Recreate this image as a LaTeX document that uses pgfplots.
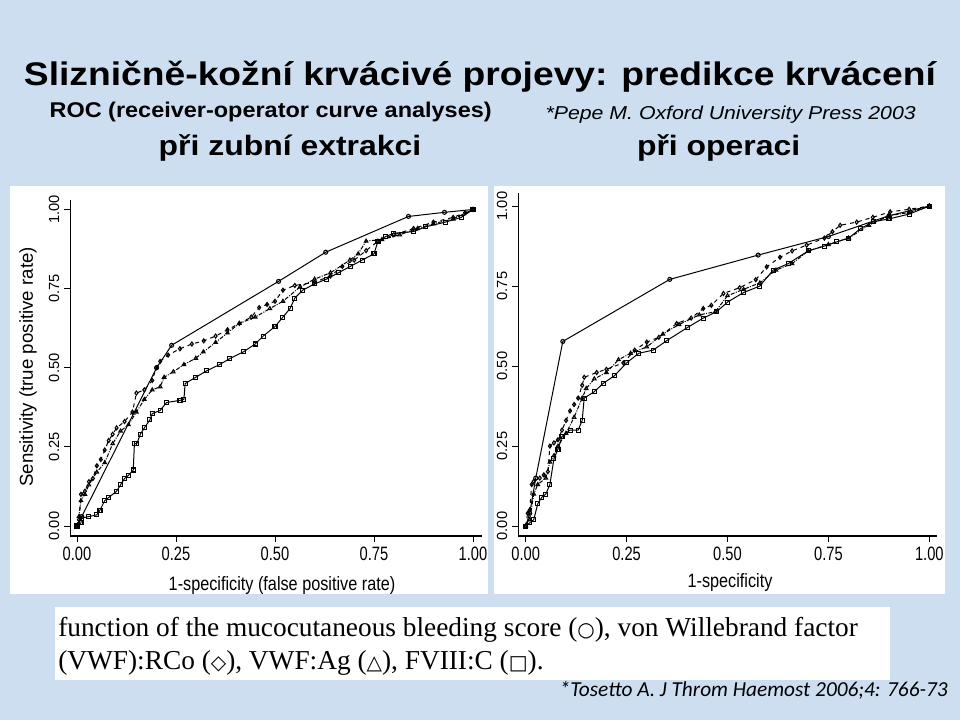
\documentclass[border=0pt]{standalone}
\usepackage{fontspec}
\setmainfont{Liberation Sans}
\newfontfamily\timesfont{Liberation Serif}
\newfontfamily\califont{Carlito}
\newfontfamily\symfont{DejaVu Sans}
\usepackage{pgfplots}
\pgfplotsset{compat=1.18}
\definecolor{slidebg}{RGB}{205,222,241}

\pgfplotsset{
  rocaxis/.style={
    anchor=south west, scale only axis,
    axis x line*=bottom, axis y line*=left,
    x axis line style={line width=1.5pt,-},
    y axis line style={line width=0.7pt,-},
    tick align=outside, major tick length=4.5pt,
    tick style={black, line width=0.7pt},
    xtick={0,0.25,0.5,0.75,1}, ytick={0,0.25,0.5,0.75,1},
    xticklabels={0.00,0.25,0.50,0.75,1.00},
    yticklabels={0.00,0.25,0.50,0.75,1.00},
    xticklabel style={font=\fontsize{14.5}{14.5}\selectfont, xscale=0.76},
    yticklabel style={font=\fontsize{11}{11}\selectfont, rotate=90, anchor=south},
    clip=false,
  },
  curve/.style={black, line width=0.75pt, mark size=1.5pt, mark options={solid, line width=0.8pt, fill=white}},
}

\begin{document}
\begin{tikzpicture}
% slide background
\fill[slidebg] (0,0) rectangle (720pt,540pt);
\fill[white] (7.5pt,94.5pt) rectangle (366pt,400.5pt);
\fill[white] (370.5pt,94.5pt) rectangle (708.75pt,400.5pt);

% titles
\node[anchor=base, inner sep=0] at (360pt,476pt) {\scalebox{1.14}[1]{\fontsize{24.5}{24.5}\selectfont\bfseries Slizničně-kožní krvácivé projevy: predikce krvácení}};
\node[anchor=base, inner sep=0] at (203pt,451.5pt) {\scalebox{1.1}[1]{\fontsize{16}{16}\selectfont\bfseries ROC (receiver-operator curve analyses)}};
\node[anchor=base, inner sep=0] at (548pt,450pt) {\scalebox{1.14}[1]{\fontsize{14}{14}\selectfont\itshape *Pepe M. Oxford University Press 2003}};
\node[anchor=base, inner sep=0] at (217.5pt,423pt) {\scalebox{1.14}[1]{\fontsize{21}{21}\selectfont\bfseries při zubní extrakci}};
\node[anchor=base, inner sep=0] at (539pt,423pt) {\scalebox{1.14}[1]{\fontsize{21}{21}\selectfont\bfseries při operaci}};

% left panel: dental extraction
\begin{axis}[rocaxis, at={(52.5pt,138pt)}, width=309pt, height=252pt,
  xmin=-0.0177, xmax=1.0227, ymin=-0.0316, ymax=1.030]
\addplot[curve, mark=o] coordinates {
  (0,0)(0.012,0.03)(0.201,0.50)(0.239,0.571)(0.509,0.773)(0.628,0.865)(0.837,0.978)(0.928,0.991)(1,1)
};
\addplot[curve, dashed, mark=diamond] coordinates {
  (0,0)(0.005,0.02)(0.01,0.10)(0.02,0.11)(0.03,0.14)(0.04,0.15)(0.05,0.19)(0.06,0.21)(0.07,0.24)
  (0.08,0.27)(0.09,0.29)(0.10,0.31)(0.12,0.33)(0.14,0.36)(0.15,0.42)(0.17,0.43)(0.19,0.46)(0.20,0.50)
  (0.21,0.52)(0.23,0.54)(0.26,0.56)(0.29,0.575)(0.32,0.585)(0.35,0.60)(0.38,0.62)(0.41,0.64)(0.44,0.66)
  (0.46,0.69)(0.48,0.70)(0.50,0.71)(0.52,0.745)(0.55,0.76)(0.60,0.77)(0.64,0.79)(0.67,0.82)(0.70,0.84)
  (0.73,0.87)(0.76,0.90)(0.80,0.92)(0.85,0.94)(0.90,0.96)(0.95,0.975)(0.98,0.99)(1,1)
};
\addplot[curve, densely dashdotted, mark=triangle] coordinates {
  (0,0)(0.005,0.03)(0.01,0.08)(0.02,0.10)(0.03,0.13)(0.05,0.17)(0.07,0.20)(0.09,0.26)(0.11,0.30)
  (0.13,0.32)(0.15,0.36)(0.17,0.40)(0.19,0.43)(0.21,0.44)(0.22,0.47)(0.243,0.487)(0.27,0.51)(0.30,0.53)
  (0.319,0.55)(0.35,0.58)(0.38,0.61)(0.41,0.64)(0.45,0.66)(0.487,0.687)(0.52,0.71)(0.563,0.755)(0.60,0.78)
  (0.64,0.80)(0.689,0.84)(0.71,0.86)(0.73,0.90)(0.77,0.905)(0.815,0.92)(0.86,0.94)(0.90,0.955)(0.95,0.97)(1,1)
};
\addplot[curve, mark=square] coordinates {
  (0,0)(0.01,0.01)(0.012,0.025)(0.03,0.03)(0.05,0.035)(0.058,0.05)(0.07,0.08)(0.08,0.09)(0.10,0.11)
  (0.11,0.13)(0.12,0.15)(0.13,0.16)(0.142,0.177)(0.145,0.26)(0.151,0.26)(0.16,0.29)(0.17,0.31)(0.184,0.335)
  (0.19,0.355)(0.21,0.365)(0.226,0.39)(0.26,0.397)(0.27,0.40)(0.273,0.45)(0.30,0.47)(0.327,0.49)(0.36,0.51)
  (0.386,0.529)(0.42,0.55)(0.45,0.575)(0.47,0.60)(0.50,0.63)(0.52,0.66)(0.538,0.687)(0.55,0.72)(0.57,0.745)
  (0.60,0.765)(0.63,0.78)(0.66,0.80)(0.69,0.82)(0.72,0.84)(0.75,0.86)(0.76,0.90)(0.78,0.915)(0.80,0.925)
  (0.85,0.93)(0.88,0.945)(0.93,0.96)(0.97,0.975)(1,1)
};
\end{axis}
\node[rotate=90, font=\fontsize{14}{14}\selectfont] at (21pt,264.75pt) {Sensitivity (true positive rate)};
\node[anchor=base, xscale=0.84, font=\fontsize{14.5}{14.5}\selectfont] at (211.5pt,97pt) {1-specificity (false positive rate)};

% right panel: surgery
\begin{axis}[rocaxis, at={(388.5pt,138pt)}, width=314.25pt, height=257.25pt,
  xmin=-0.019, xmax=1.019, ymin=-0.031, ymax=1.041]
\addplot[curve, mark=o] coordinates {
  (0,0)(0.01,0.04)(0.025,0.15)(0.092,0.577)(0.357,0.771)(0.576,0.847)(0.75,0.905)(0.90,0.97)(1,1)
};
\addplot[curve, dashed, mark=diamond] coordinates {
  (0,0)(0.005,0.04)(0.01,0.05)(0.015,0.13)(0.02,0.14)(0.035,0.15)(0.045,0.16)(0.055,0.17)(0.06,0.25)
  (0.07,0.26)(0.08,0.27)(0.09,0.30)(0.10,0.33)(0.11,0.36)(0.12,0.38)(0.13,0.40)(0.14,0.44)(0.145,0.465)
  (0.176,0.48)(0.20,0.49)(0.242,0.51)(0.27,0.55)(0.30,0.575)(0.33,0.59)(0.374,0.633)(0.41,0.65)(0.44,0.68)
  (0.46,0.69)(0.49,0.727)(0.53,0.745)(0.57,0.77)(0.597,0.81)(0.63,0.84)(0.66,0.86)(0.696,0.878)(0.74,0.90)
  (0.76,0.92)(0.779,0.94)(0.82,0.95)(0.86,0.965)(0.903,0.982)(0.95,0.99)(1,1)
};
\addplot[curve, densely dashdotted, mark=triangle] coordinates {
  (0,0)(0.01,0.02)(0.02,0.10)(0.03,0.13)(0.05,0.15)(0.06,0.20)(0.07,0.22)(0.08,0.25)(0.10,0.29)
  (0.12,0.34)(0.14,0.40)(0.15,0.43)(0.17,0.46)(0.20,0.48)(0.23,0.52)(0.26,0.54)(0.30,0.56)(0.34,0.60)
  (0.38,0.63)(0.43,0.66)(0.47,0.67)(0.50,0.72)(0.54,0.74)(0.58,0.76)(0.62,0.80)(0.66,0.82)(0.70,0.86)
  (0.75,0.88)(0.80,0.90)(0.85,0.94)(0.90,0.97)(0.95,0.98)(1,1)
};
\addplot[curve, mark=square] coordinates {
  (0,0)(0.01,0.01)(0.02,0.02)(0.03,0.07)(0.04,0.09)(0.05,0.10)(0.06,0.13)(0.07,0.21)(0.08,0.24)
  (0.09,0.28)(0.11,0.30)(0.13,0.30)(0.14,0.33)(0.145,0.40)(0.17,0.42)(0.192,0.446)(0.22,0.47)(0.25,0.51)
  (0.28,0.54)(0.316,0.55)(0.35,0.58)(0.40,0.62)(0.44,0.65)(0.473,0.67)(0.50,0.70)(0.54,0.73)(0.58,0.75)
  (0.613,0.80)(0.65,0.82)(0.70,0.86)(0.74,0.875)(0.77,0.888)(0.80,0.90)(0.83,0.93)(0.861,0.951)(0.90,0.96)
  (0.95,0.975)(1,1)
};
\end{axis}
\node[anchor=base, xscale=0.84, font=\fontsize{14.5}{14.5}\selectfont] at (547.5pt,99pt) {1-specificity};

% caption
\fill[white] (41.25pt,30pt) rectangle (667.5pt,84.75pt);
\node[anchor=base west, inner sep=0, font=\timesfont\fontsize{20.5}{20.5}\selectfont] at (43.5pt,62.25pt)
  {function of the mucocutaneous bleeding score ({\symfont\fontsize{15}{15}\selectfont ○}), von Willebrand factor};
\node[anchor=base west, inner sep=0, font=\timesfont\fontsize{20.5}{20.5}\selectfont] at (43.5pt,38pt)
  {(VWF):RCo ({\symfont\fontsize{15}{15}\selectfont ◇}), VWF:Ag ({\symfont\fontsize{15}{15}\selectfont △}), FVIII:C ({\symfont\fontsize{15}{15}\selectfont □}).};
\node[anchor=base east, inner sep=0, font=\califont\itshape\fontsize{16}{16}\selectfont] at (711pt,17.25pt)
  {*Tosetto A. J Throm Haemost 2006;4: 766-73};
\end{tikzpicture}
\end{document}
